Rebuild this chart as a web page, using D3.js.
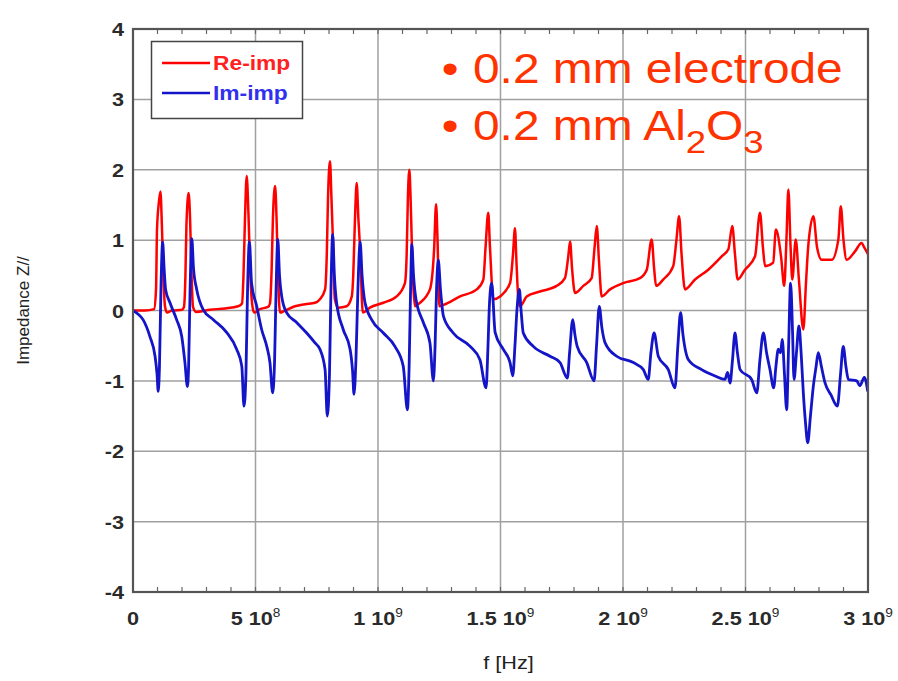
<!DOCTYPE html>
<html>
<head>
<meta charset="utf-8">
<script src="https://cdn.jsdelivr.net/npm/d3@7"></script>
<style>
  body { margin: 0; background: #fff; }
  text { font-family: "Liberation Sans", Arial, sans-serif; }
</style>
</head>
<body>
<svg></svg>
<script>
// frequency in GHz, impedance values
let reImp = [
  [0.000,0.00],[0.049,0.00],[0.086,0.02],[0.094,0.30],[0.098,1.15],[0.106,1.55],[0.112,1.69],[0.118,1.20],[0.124,0.49],[0.131,0.05],[0.139,-0.03],[0.159,0.00],
  [0.200,0.01],[0.208,0.05],[0.214,0.50],[0.218,1.20],[0.227,1.67],[0.233,1.30],[0.239,0.50],[0.245,0.05],[0.257,-0.02],[0.314,0.01],[0.376,0.03],[0.429,0.06],
  [0.445,0.10],[0.451,0.50],[0.457,1.30],[0.464,1.91],[0.471,1.40],[0.478,0.60],[0.486,0.10],[0.494,-0.03],[0.518,0.02],[0.551,0.05],
  [0.559,0.10],[0.566,0.60],[0.571,1.30],[0.580,1.77],[0.586,1.30],[0.592,0.50],[0.600,-0.03],[0.616,-0.01],[0.661,0.06],[0.702,0.09],[0.743,0.11],[0.763,0.16],
  [0.784,0.30],[0.791,0.80],[0.796,1.60],[0.804,2.12],[0.810,1.60],[0.815,1.10],[0.824,0.16],[0.838,0.04],[0.872,0.06],[0.893,0.20],
  [0.899,0.50],[0.906,1.30],[0.913,1.81],[0.920,1.30],[0.927,0.87],[0.938,-0.03],[0.967,0.04],[1.022,0.11],[1.076,0.20],[1.110,0.39],
  [1.117,0.80],[1.122,1.60],[1.128,2.00],[1.133,1.60],[1.138,0.96],[1.151,0.06],[1.171,0.11],[1.212,0.30],
  [1.229,0.87],[1.237,1.51],[1.243,1.00],[1.250,0.06],[1.267,0.08],[1.335,0.20],[1.403,0.30],[1.430,0.44],
  [1.439,0.90],[1.450,1.39],[1.457,0.90],[1.471,0.16],[1.498,0.20],[1.539,0.39],
  [1.551,0.80],[1.559,1.17],[1.565,0.70],[1.573,0.16],[1.580,0.06],[1.607,0.20],[1.661,0.27],[1.729,0.35],[1.763,0.46],
  [1.776,0.75],[1.784,0.98],[1.792,0.60],[1.804,0.25],[1.838,0.35],[1.872,0.46],
  [1.884,0.90],[1.893,1.20],[1.902,0.70],[1.913,0.20],[1.947,0.30],[2.001,0.39],[2.069,0.46],[2.097,0.58],
  [2.117,1.01],[2.127,0.60],[2.135,0.35],[2.164,0.44],[2.205,0.63],
  [2.218,1.00],[2.229,1.34],[2.239,0.80],[2.253,0.30],[2.294,0.44],[2.348,0.58],[2.403,0.77],[2.430,0.87],
  [2.446,1.20],[2.457,0.80],[2.468,0.44],[2.498,0.58],[2.539,0.77],
  [2.559,1.39],[2.571,0.90],[2.580,0.63],[2.613,0.68],[2.624,1.15],[2.645,0.77],[2.658,0.35],
  [2.667,1.00],[2.675,1.72],[2.684,0.90],[2.691,0.44],[2.705,1.01],[2.718,0.44],[2.736,-0.27],
  [2.747,0.40],[2.756,0.91],[2.777,1.34],[2.792,0.90],[2.811,0.72],[2.852,0.72],[2.879,1.01],[2.889,1.48],
  [2.900,1.00],[2.913,0.72],[2.947,0.84],[2.974,0.96],[2.984,0.90],[3.000,0.80]
]

let imImp = [
  [0.000,0.00],[0.020,-0.05],[0.041,-0.13],[0.069,-0.37],[0.090,-0.65],[0.098,-0.90],[0.103,-1.15],[0.108,-0.80],[0.114,0.30],[0.121,0.97],[0.127,0.60],[0.133,0.30],
  [0.151,0.11],[0.178,-0.13],[0.199,-0.37],[0.212,-0.74],[0.222,-1.08],[0.227,-0.80],[0.233,0.30],[0.240,1.02],[0.247,0.60],[0.260,0.30],[0.287,0.01],[0.328,-0.13],
  [0.382,-0.31],[0.423,-0.55],[0.444,-0.79],[0.453,-1.36],[0.461,-0.90],[0.467,0.20],[0.475,0.98],[0.484,0.39],[0.505,0.06],[0.525,-0.27],[0.546,-0.51],[0.559,-0.74],
  [0.570,-1.17],[0.578,-0.70],[0.584,0.30],[0.591,1.01],[0.598,0.50],[0.607,0.20],[0.627,-0.03],[0.668,-0.17],[0.709,-0.32],[0.743,-0.46],[0.763,-0.55],[0.784,-0.84],
  [0.793,-1.50],[0.802,-0.90],[0.808,0.30],[0.815,1.08],[0.822,0.50],[0.831,0.11],[0.858,-0.27],[0.886,-0.55],[0.896,-0.85],[0.902,-1.19],[0.910,-0.70],[0.918,0.30],
  [0.927,0.98],[0.935,0.50],[0.947,0.11],[0.974,-0.13],[1.022,-0.32],[1.069,-0.51],[1.103,-0.79],[1.120,-1.41],[1.127,-0.80],[1.133,0.30],[1.138,0.94],[1.145,0.50],
  [1.155,0.16],[1.185,-0.17],[1.212,-0.46],[1.226,-1.00],[1.233,-0.50],[1.239,0.30],[1.246,0.72],[1.255,0.30],[1.267,-0.08],[1.307,-0.32],[1.376,-0.51],[1.416,-0.70],
  [1.441,-1.10],[1.449,-0.50],[1.455,0.10],[1.464,0.39],[1.478,-0.31],[1.511,-0.55],[1.539,-0.74],[1.550,-0.93],[1.559,-0.50],[1.567,0.00],[1.577,0.30],[1.584,0.00],
  [1.593,-0.32],[1.634,-0.51],[1.702,-0.65],[1.743,-0.74],[1.773,-0.96],[1.782,-0.60],[1.795,-0.13],[1.804,-0.35],[1.813,-0.51],[1.852,-0.74],[1.882,-1.00],[1.892,-0.50],
  [1.903,0.06],[1.914,-0.25],[1.927,-0.46],[1.974,-0.65],[2.042,-0.74],[2.083,-0.84],[2.103,-0.98],[2.114,-0.60],[2.127,-0.32],[2.144,-0.65],[2.185,-0.84],[2.212,-1.10],
  [2.224,-0.50],[2.235,-0.03],[2.245,-0.35],[2.267,-0.70],[2.321,-0.84],[2.376,-0.93],[2.416,-0.98],[2.427,-0.88],[2.437,-1.03],[2.447,-0.70],[2.457,-0.32],[2.467,-0.60],
  [2.478,-0.84],[2.525,-0.98],[2.546,-1.17],[2.559,-0.70],[2.573,-0.32],[2.586,-0.60],[2.600,-0.84],[2.615,-1.10],[2.624,-0.80],[2.634,-0.55],[2.643,-0.60],[2.650,-0.41],
  [2.659,-0.90],[2.668,-1.41],[2.676,-0.50],[2.684,0.39],[2.692,-0.30],[2.698,-0.98],[2.708,-0.60],[2.718,-0.22],[2.727,-0.60],[2.736,-1.17],[2.745,-1.60],[2.754,-1.88],
  [2.765,-1.50],[2.777,-1.07],[2.788,-0.80],[2.797,-0.60],[2.810,-0.80],[2.824,-1.02],[2.849,-1.20],[2.875,-1.36],[2.888,-0.90],[2.899,-0.51],[2.910,-0.80],[2.920,-0.98],
  [2.954,-1.00],[2.967,-1.07],[2.985,-0.95],[2.999,-1.15]
]

let yTicks = [ -4, -3, -2, -1, 0, 1, 2, 3, 4 ]
let xTicks = [ 0, 0.5, 1, 1.5, 2, 2.5, 3 ]
let xTickBase = [ '0', '5 10', '1 10', '1.5 10', '2 10', '2.5 10', '3 10' ]
let xTickExp = [ '', '8', '9', '9', '9', '9', '9' ]
let seriesNames = [ 'Re-imp', 'Im-imp' ]
let seriesColors = [ '#ff0000', '#1414c8' ]
let noteLine1 = '0.2 mm electrode'

let width = 898
let height = 681
let mLeft = 133, mRight = 868, mTop = 29, mBottom = 592
let sx = 1.14   // the picture is stretched sideways

const xScale =
d3.scaleLinear()
  .domain( [ 0, 3 ] )
  .range( [ mLeft, mRight ] )

const yScale =
d3.scaleLinear()
  .domain( [ -4, 4 ] )
  .range( [ mBottom, mTop ] )

let chart =
d3.select( 'svg' )
  .attr( 'width', width )
  .attr( 'height', height )

// grid
chart.append( 'g' )
  .selectAll( 'line' )
  .data( yTicks.slice( 1, -1 ) )
  .enter()
  .append( 'line' )
  .attr( 'x1', mLeft ).attr( 'x2', mRight )
  .attr( 'y1', d => yScale( d ) ).attr( 'y2', d => yScale( d ) )
  .attr( 'stroke', '#a0a0a0' )
  .attr( 'stroke-width', 1.5 )

chart.append( 'g' )
  .selectAll( 'line' )
  .data( xTicks.slice( 1, -1 ) )
  .enter()
  .append( 'line' )
  .attr( 'y1', mTop ).attr( 'y2', mBottom )
  .attr( 'x1', d => xScale( d ) ).attr( 'x2', d => xScale( d ) )
  .attr( 'stroke', '#a0a0a0' )
  .attr( 'stroke-width', 1.5 )

// minor ticks top and bottom
let minor = d3.range( 1, 30 ).map( i => i / 10 )
let tickG = chart.append( 'g' ).attr( 'stroke', '#666' ).attr( 'stroke-width', 1.2 )
tickG.selectAll( 'line.b' )
  .data( minor )
  .enter()
  .append( 'line' )
  .attr( 'x1', d => xScale( d ) ).attr( 'x2', d => xScale( d ) )
  .attr( 'y1', mBottom ).attr( 'y2', mBottom - 5 )
tickG.selectAll( 'line.t' )
  .data( minor )
  .enter()
  .append( 'line' )
  .attr( 'x1', d => xScale( d ) ).attr( 'x2', d => xScale( d ) )
  .attr( 'y1', mTop ).attr( 'y2', mTop + 5 )

// curves
let line =
d3.line()
  .x( d => xScale( d[0] ) )
  .y( d => yScale( d[1] ) )
  .curve( d3.curveMonotoneX )

chart.append( 'path' )
  .datum( reImp )
  .attr( 'd', line )
  .attr( 'fill', 'none' )
  .attr( 'stroke', seriesColors[0] )
  .attr( 'stroke-width', 2.5 )
  .attr( 'stroke-linejoin', 'round' )

chart.append( 'path' )
  .datum( imImp )
  .attr( 'd', line )
  .attr( 'fill', 'none' )
  .attr( 'stroke', seriesColors[1] )
  .attr( 'stroke-width', 2.8 )
  .attr( 'stroke-linejoin', 'round' )

// frame
chart.append( 'rect' )
  .attr( 'x', mLeft ).attr( 'y', mTop )
  .attr( 'width', mRight - mLeft ).attr( 'height', mBottom - mTop )
  .attr( 'fill', 'none' )
  .attr( 'stroke', '#555' )
  .attr( 'stroke-width', 2.2 )

// y tick labels
chart.append( 'g' )
  .selectAll( 'text' )
  .data( yTicks )
  .enter()
  .append( 'text' )
  .attr( 'transform', d => `translate(124,${ yScale( d ) + 7 }) scale(${ sx },1)` )
  .attr( 'text-anchor', 'end' )
  .attr( 'font-size', 19 )
  .attr( 'font-weight', 'bold' )
  .attr( 'fill', '#2a2a2a' )
  .text( d => d )

// x tick labels
let xl =
chart.append( 'g' )
  .selectAll( 'text' )
  .data( xTicks )
  .enter()
  .append( 'text' )
  .attr( 'transform', d => `translate(${ xScale( d ) },625) scale(${ sx },1)` )
  .attr( 'text-anchor', 'middle' )
  .attr( 'font-size', 19 )
  .attr( 'font-weight', 'bold' )
  .attr( 'fill', '#2a2a2a' )

xl.append( 'tspan' ).text( ( d, i ) => xTickBase[i] )
xl.append( 'tspan' )
  .attr( 'dy', -8 )
  .attr( 'font-size', 12 )
  .attr( 'font-weight', 'normal' )
  .text( ( d, i ) => xTickExp[i] )

// axis titles
chart.append( 'text' )
  .attr( 'transform', `translate(${ ( mLeft + mRight ) / 2 + 8 },669) scale(${ sx },1)` )
  .attr( 'text-anchor', 'middle' )
  .attr( 'font-size', 19 )
  .attr( 'fill', '#222' )
  .text( 'f [Hz]' )

chart.append( 'text' )
  .attr( 'transform', `translate(29,${ ( mTop + mBottom ) / 2 }) rotate(-90)` )
  .attr( 'text-anchor', 'middle' )
  .attr( 'font-size', 17 )
  .attr( 'fill', '#222' )
  .text( 'Impedance Z//' )

// legend
let legend = chart.append( 'g' )
legend.append( 'rect' )
  .attr( 'x', 151.5 ).attr( 'y', 41.5 )
  .attr( 'width', 151 ).attr( 'height', 77 )
  .attr( 'fill', '#fff' )
  .attr( 'stroke', '#444' )
  .attr( 'stroke-width', 1.5 )

let rows =
legend.selectAll( 'g.row' )
  .data( seriesNames )
  .enter()
  .append( 'g' )
  .attr( 'transform', ( d, i ) => `translate(0,${ 63 + i * 30 })` )

rows.append( 'line' )
  .attr( 'x1', 162 ).attr( 'x2', 210 )
  .attr( 'stroke', ( d, i ) => seriesColors[i] )
  .attr( 'stroke-width', 2.5 )

rows.append( 'text' )
  .attr( 'transform', `translate(213,7) scale(${ sx },1)` )
  .attr( 'font-size', 20 )
  .attr( 'font-weight', 'bold' )
  .attr( 'fill', ( d, i ) => i ? '#3030ee' : '#ff2020' )
  .text( d => d )

// annotation
let note = chart.append( 'g' ).attr( 'fill', '#ff3300' ).attr( 'font-size', 42 )
note.append( 'text' )
  .attr( 'transform', `translate(450,83) scale(${ sx },1)` )
  .attr( 'text-anchor', 'middle' )
  .text( '\u2022' )
note.append( 'text' )
  .attr( 'transform', `translate(473,83) scale(${ sx },1)` )
  .text( noteLine1 )
note.append( 'text' )
  .attr( 'transform', `translate(450,140) scale(${ sx },1)` )
  .attr( 'text-anchor', 'middle' )
  .text( '\u2022' )

let l2 =
note.append( 'text' )
  .attr( 'transform', `translate(473,140) scale(${ sx },1)` )
l2.append( 'tspan' ).text( '0.2 mm Al' )
l2.append( 'tspan' ).attr( 'dy', 13 ).attr( 'font-size', 32 ).text( '2' )
l2.append( 'tspan' ).attr( 'dy', -13 ).text( 'O' )
l2.append( 'tspan' ).attr( 'dy', 13 ).attr( 'font-size', 32 ).text( '3' )
</script>
</body>
</html>
